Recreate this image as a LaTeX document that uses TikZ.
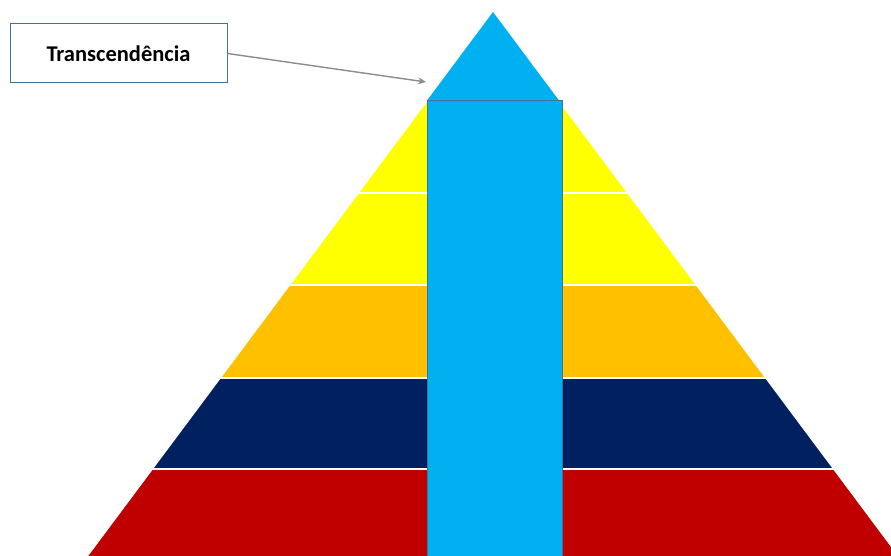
\documentclass[tikz,border=0pt]{standalone}
\usepackage{fontspec}
\setmainfont{Carlito}
\usepackage{tikz}
\usetikzlibrary{arrows.meta,positioning,calc}
\definecolor{base}{RGB}{192,0,0}
\definecolor{navy}{RGB}{0,32,96}
\definecolor{gold}{RGB}{255,192,0}
\definecolor{lemon}{RGB}{255,255,0}
\definecolor{sky}{RGB}{0,176,240}
\definecolor{frame}{RGB}{65,113,156}
\definecolor{pointer}{RGB}{140,140,140}

\begin{document}
\begin{tikzpicture}[
  x=1pt,y=-1pt,
  layer/.style={draw=white,line width=1.6pt},
  labelbox/.style={rectangle,draw=frame,fill=white,line width=1pt,minimum width=217pt,minimum height=59pt,font=\fontsize{22.5}{27}\selectfont\bfseries},
  column/.style={draw=frame,line width=0.8pt,fill=sky},
  arrow/.style={-{Stealth[length=8pt,width=7pt]},pointer,line width=1.4pt},
]
\useasboundingbox (0,0) rectangle (891,556);
\clip (0,0) rectangle (891,556);
% layers of the pyramid, from the top down
\foreach \t/\b/\c in {100/193/lemon,193/285/lemon,285/378/gold,378/469/navy,469/570/base}{
  \fill[\c,layer] ({493-0.746*(\t-12)},\t) -- ({493+0.746*(\t-12)},\t)
    -- ({493+0.746*(\b-12)},\b) -- ({493-0.746*(\b-12)},\b) -- cycle;
}
\coordinate (apex) at (493,12);
\fill[sky] (apex) -- ({493+0.746*88},100) -- ({493-0.746*88},100) -- cycle;
\draw[column] (427,100) rectangle (562,560);

\node[labelbox] (trans) at (118.5,53.5) {Transcendência};
\coordinate (tip) at (426,82);
\draw[arrow] (trans.east) -- (tip);
\end{tikzpicture}
\end{document}
